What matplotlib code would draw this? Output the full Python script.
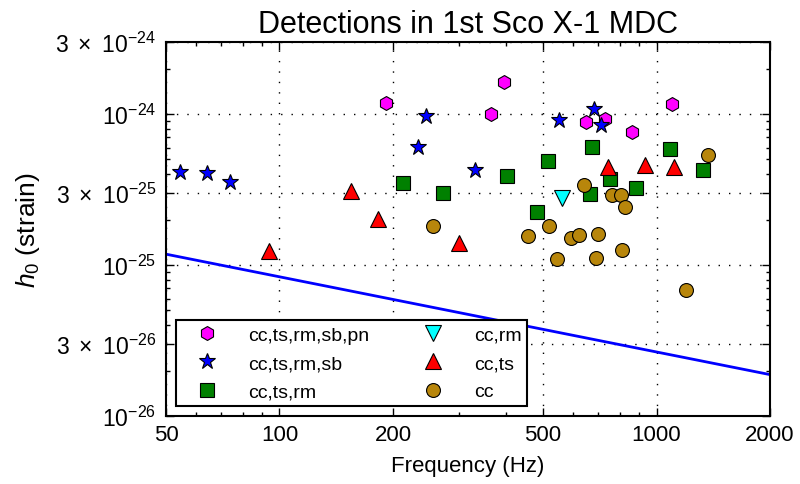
import matplotlib
matplotlib.use("Agg")
import matplotlib.pyplot as plt
from matplotlib.ticker import FixedLocator, FixedFormatter, LogLocator, NullFormatter

plt.rcParams['font.family'] = ['Liberation Sans', 'DejaVu Sans']
plt.rcParams['mathtext.fontset'] = 'custom'
plt.rcParams['mathtext.rm'] = 'Liberation Sans'
plt.rcParams['mathtext.it'] = 'Liberation Sans:italic'
plt.rcParams['mathtext.bf'] = 'Liberation Sans:bold'

# detections, grouped by which pipelines found them
hex_f = [192, 395, 363, 651, 732, 862, 1100]
hex_h = [1.18e-24, 1.64e-24, 1.0e-24, 8.8e-25, 9.3e-25, 7.65e-25, 1.16e-24]

star_f = [54.4, 64.4, 73.7, 244, 233, 331, 552, 683, 713]
star_h = [4.16e-25, 4.06e-25, 3.55e-25, 9.7e-25, 6.05e-25, 4.28e-25, 9.13e-25, 1.074e-24, 8.46e-25]

sq_f = [213, 272, 402, 515, 675, 755, 665, 883, 483, 1083, 1327]
sq_h = [3.48e-25, 2.98e-25, 3.86e-25, 4.87e-25, 6.05e-25, 3.70e-25, 2.95e-25, 3.24e-25, 2.23e-25, 5.91e-25, 4.29e-25]

vtri_f = [561]
vtri_h = [2.8e-25]

tri_f = [155, 183, 93.7, 300, 744, 931, 1114]
tri_h = [3.07e-25, 2.01e-25, 1.23e-25, 1.40e-25, 4.49e-25, 4.60e-25, 4.49e-25]

circ_f = [255, 643, 761, 804, 824, 1371, 519, 456, 592, 624, 700, 811, 544, 690, 1194]
circ_h = [1.82e-25, 3.40e-25, 2.89e-25, 2.93e-25, 2.44e-25, 5.39e-25, 1.82e-25, 1.56e-25,
          1.51e-25, 1.58e-25, 1.60e-25, 1.26e-25, 1.10e-25, 1.12e-25, 6.87e-26]

# sensitivity line
line_f = [50, 2000]
line_h = [1.18e-25, 1.88e-26]

yticks = [1e-26, 3e-26, 1e-25, 3e-25, 1e-24, 3e-24]
ylabels = [r'$10^{-26}$', r'$3\ \times\ 10^{-26}$', r'$10^{-25}$',
           r'$3\ \times\ 10^{-25}$', r'$10^{-24}$', r'$3\ \times\ 10^{-24}$']
xticks = [50, 100, 200, 500, 1000, 2000]
xlabels = ['50', '100', '200', '500', '1000', '2000']

fig = plt.figure(figsize=(8, 4.85), dpi=100)
ax = fig.add_axes([166/800, 1 - 417/485, 604/800, 374/485])

ms = 10
ax.plot(line_f, line_h, color='#0000ff', lw=2, zorder=2)
ax.plot(hex_f, hex_h, 'h', color='#ff00ff', mec='k', mew=0.8, ms=ms, label='cc,ts,rm,sb,pn', zorder=3)
ax.plot(star_f, star_h, '*', color='#0000ff', mec='k', mew=0.8, ms=ms + 2, label='cc,ts,rm,sb', zorder=3)
ax.plot(sq_f, sq_h, 's', color='#008000', mec='k', mew=0.8, ms=ms, label='cc,ts,rm', zorder=3)
ax.plot(vtri_f, vtri_h, 'v', color='#00ffff', mec='k', mew=0.8, ms=ms + 1, label='cc,rm', zorder=3)
ax.plot(tri_f, tri_h, '^', color='#ff0000', mec='k', mew=0.8, ms=ms + 1, label='cc,ts', zorder=3)
ax.plot(circ_f, circ_h, 'o', color='#b8860b', mec='k', mew=0.8, ms=ms, label='cc', zorder=3)

ax.set_xscale('log')
ax.set_yscale('log')
ax.set_xlim(50, 2000)
ax.set_ylim(1e-26, 3e-24)

ax.xaxis.set_major_locator(FixedLocator(xticks))
ax.xaxis.set_major_formatter(FixedFormatter(xlabels))
ax.xaxis.set_minor_locator(LogLocator(base=10, subs=range(2, 10)))
ax.xaxis.set_minor_formatter(NullFormatter())
ax.yaxis.set_major_locator(FixedLocator(yticks))
ax.yaxis.set_major_formatter(FixedFormatter(ylabels))
ax.yaxis.set_minor_locator(LogLocator(base=10, subs=range(2, 10)))
ax.yaxis.set_minor_formatter(NullFormatter())

ax.tick_params(which='both', direction='in', top=True, right=True, colors='k')
ax.tick_params(which='major', length=6, width=1, labelsize=16)
ax.tick_params(which='minor', length=3, width=1)
ax.tick_params(axis='x', which='major', pad=6)
ax.tick_params(axis='y', which='major', pad=7, labelsize=16.5)
for sp in ax.spines.values():
    sp.set_linewidth(1.5)

ax.grid(True, which='major', color='k', linestyle=(0, (1, 6.5)), linewidth=1)

ax.set_xlabel('Frequency (Hz)', fontsize=16, labelpad=7)
ax.set_ylabel(r'$h_0$ (strain)', fontsize=19, labelpad=10)
ax.set_title('Detections in 1st Sco X-1 MDC', fontsize=22, pad=7)

leg = ax.legend(loc='lower left', ncol=2, numpoints=1, fontsize=14, fancybox=False,
                framealpha=1, edgecolor='k', handlelength=2.6, handletextpad=0.8,
                columnspacing=2.0, labelspacing=0.55, borderpad=0.3)
leg.get_frame().set_linewidth(1.5)

fig.savefig('out.png', dpi=100, facecolor='white')
